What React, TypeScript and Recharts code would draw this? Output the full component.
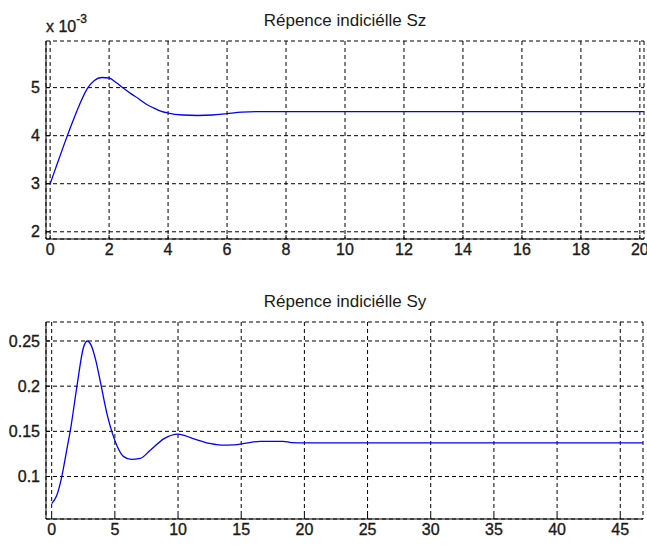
import React from "react";
import { LineChart, Line, XAxis, YAxis, CartesianGrid } from "recharts";

// Sz step response (values in units of 1e-3)
const szTime = [0, 0.25, 0.5, 0.75, 1, 1.25, 1.5, 1.75, 2, 2.25, 2.5, 2.75, 3, 3.25, 3.5, 3.75, 4, 4.5, 5, 5.5, 6, 6.5, 7, 8, 10, 12, 14, 16, 18, 20.14];
const szValues = [3.0, 3.43, 3.86, 4.27, 4.65, 4.97, 5.15, 5.21, 5.2, 5.1, 4.98, 4.87, 4.77, 4.66, 4.58, 4.51, 4.47, 4.43, 4.42, 4.43, 4.46, 4.49, 4.5, 4.5, 4.5, 4.5, 4.5, 4.5, 4.5, 4.5];
const szXTicks = [0, 2, 4, 6, 8, 10, 12, 14, 16, 18, 20];
const szYTicks = [2, 3, 4, 5];

// Sy step response
const syTime = [0, 0.4, 0.8, 1.2, 1.5, 2, 2.5, 2.8, 3.1, 3.5, 3.85, 4.4, 4.8, 5.2, 5.7, 6.3, 7, 7.8, 8.9, 10, 11.2, 12.5, 13.4, 14.4, 15.4, 16.5, 18.3, 19, 20, 25, 30, 35, 40, 45, 46.8];
const syValues = [0.07, 0.079, 0.1, 0.13, 0.153, 0.2, 0.242, 0.25, 0.246, 0.228, 0.205, 0.168, 0.148, 0.133, 0.122, 0.119, 0.12, 0.129, 0.142, 0.147, 0.142, 0.1366, 0.1347, 0.135, 0.137, 0.139, 0.139, 0.1375, 0.1372, 0.1372, 0.1372, 0.1372, 0.1372, 0.1372, 0.1372];
const syXTicks = [0, 5, 10, 15, 20, 25, 30, 35, 40, 45];
const syYTicks = [0.1, 0.15, 0.2, 0.25];

const szData = szTime.map((t, i) => ({ t, v: szValues[i] }));
const syData = syTime.map((t, i) => ({ t, v: syValues[i] }));

const font = "'Liberation Sans', Arial, sans-serif";
const ink = "#1a1a1a";
const tickStyle = { fontSize: 16, fill: ink, stroke: ink, strokeWidth: 0.35, fontFamily: font };

function StepPlot(props: any) {
  const { data, xDomain, yDomain, xTicks, yTicks, height, top, xHeight, right } = props;
  return (
    <LineChart width={647} height={height} data={data} margin={{ top, right, bottom: 0, left: 0 }}>
      <CartesianGrid stroke="#000" strokeDasharray="4 3" strokeWidth={1} />
      <XAxis dataKey="t" type="number" domain={xDomain} ticks={xTicks} allowDataOverflow
        height={xHeight} tickSize={-4} tickMargin={9} tick={tickStyle}
        axisLine={{ stroke: "#000" }} tickLine={{ stroke: "#000" }} interval={0} />
      <XAxis xAxisId="top" orientation="top" dataKey="t" type="number" domain={xDomain} ticks={xTicks}
        allowDataOverflow height={0} tickSize={-4} tick={false}
        axisLine={{ stroke: "#000" }} tickLine={{ stroke: "#000" }} />
      <YAxis type="number" domain={yDomain} ticks={yTicks} allowDataOverflow width={46}
        tickSize={-4} tickMargin={10} tick={tickStyle}
        axisLine={{ stroke: "#000" }} tickLine={{ stroke: "#000" }} interval={0} />
      <YAxis yAxisId="right" orientation="right" type="number" domain={yDomain} ticks={yTicks}
        allowDataOverflow width={0} tickSize={-4} tick={false}
        axisLine={{ stroke: "#000" }} tickLine={{ stroke: "#000" }} />
      <Line type="monotone" dataKey="v" stroke="#0000ff" strokeWidth={1.3} dot={false}
        isAnimationActive={false} />
    </LineChart>
  );
}

export default function App() {
  return (
    <div style={{ position: "absolute", left: 0, top: 0, width: 647, height: 546, background: "#fff" }}>
      <StepPlot data={szData} xDomain={[-0.14, 20.14]} yDomain={[1.85, 5.97]} xTicks={szXTicks}
        yTicks={szYTicks} height={270} top={41} xHeight={31} right={3} />
      <StepPlot data={syData} xDomain={[-0.45, 46.8]} yDomain={[0.053, 0.271]} xTicks={syXTicks}
        yTicks={syYTicks} height={276} top={52} xHeight={27} right={4} />
      <svg width={647} height={546} style={{ position: "absolute", left: 0, top: 0, pointerEvents: "none" }}>
        <text x={345} y={26} textAnchor="middle" fontSize={17} fontFamily={font} fill={ink}>
          Répence indiciélle Sz
        </text>
        <text x={46} y={32} fontSize={16} fontFamily={font} fill={ink} stroke={ink} strokeWidth={0.35}>
          x 10<tspan dy={-9} fontSize={12}>-3</tspan>
        </text>
        <text x={345} y={307} textAnchor="middle" fontSize={17} fontFamily={font} fill={ink}>
          Répence indiciélle Sy
        </text>
      </svg>
    </div>
  );
}
